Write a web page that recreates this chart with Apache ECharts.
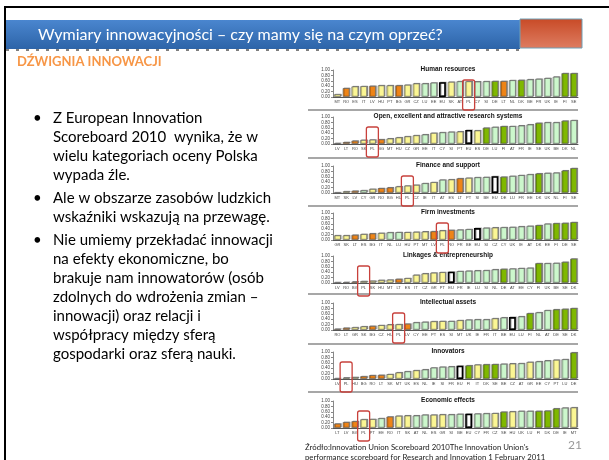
<!DOCTYPE html>
<html>
<head>
<meta charset="utf-8">
<script src="https://cdn.jsdelivr.net/npm/echarts@6/dist/echarts.min.js"></script>
<style>
body { margin: 0; background: #fff; }
#main { width: 609px; height: 460px; }
</style>
</head>
<body>
<div id="main"></div>
<script>
// country groups (IUS 2010)
var leaders = ['DK', 'FI', 'DE', 'SE'];
var followers = ['AT', 'BE', 'CY', 'EE', 'FR', 'IE', 'LU', 'NL', 'SI', 'UK'];
var moderate = ['CZ', 'GR', 'HU', 'IT', 'MT', 'PL', 'PT', 'SK', 'ES'];
var modest = ['BG', 'LV', 'LT', 'RO'];

var humanCats = ['MT','RO','ES','IT','LV','HU','PT','BG','GR','CZ','LU','EE','EU','SK','AT','PL','CY','SI','DE','LT','NL','DK','BE','FR','UK','IE','FI','SE'];
var humanVals = [0.10,0.33,0.39,0.40,0.41,0.43,0.43,0.43,0.45,0.50,0.50,0.53,0.55,0.56,0.58,0.58,0.57,0.58,0.59,0.59,0.62,0.63,0.65,0.67,0.70,0.75,0.88,0.88];

var openCats = ['LV','LT','RO','SK','PL','BG','MT','HU','CZ','GR','EE','IT','CY','SI','PT','EU','ES','DE','LU','FI','AT','FR','IE','SE','UK','BE','DK','NL'];
var openVals = [0.03,0.07,0.12,0.15,0.16,0.17,0.20,0.24,0.28,0.32,0.35,0.41,0.43,0.45,0.46,0.52,0.50,0.60,0.63,0.66,0.66,0.68,0.72,0.78,0.80,0.80,0.86,0.88];

var financeCats = ['MT','SK','LV','CY','GR','RO','BG','HU','PL','CZ','IE','IT','AT','ES','LT','PT','SI','BE','EU','DE','LU','FR','EE','DK','UK','NL','FI','SE'];
var financeVals = [0.01,0.06,0.08,0.10,0.15,0.18,0.20,0.24,0.27,0.30,0.36,0.40,0.49,0.50,0.54,0.56,0.58,0.59,0.62,0.60,0.63,0.66,0.69,0.72,0.74,0.75,0.83,0.92];

var firmCats = ['GR','SK','LT','ES','BG','IT','NL','LU','HU','PT','MT','LV','PL','RO','FR','BE','EU','SI','CZ','CY','UK','IE','AT','DK','EE','FI','DE','SE'];
var firmVals = [0.17,0.17,0.19,0.22,0.24,0.26,0.28,0.29,0.29,0.30,0.31,0.32,0.35,0.37,0.38,0.40,0.44,0.45,0.46,0.47,0.48,0.50,0.52,0.55,0.60,0.62,0.63,0.66];

var linkCats = ['LV','RO','BG','PL','SK','HU','MT','LT','ES','IT','CZ','GR','PT','EU','FR','IE','LU','SI','NL','DE','AT','EE','CY','FI','UK','BE','SE','DK'];
var linkVals = [0.02,0.03,0.05,0.07,0.08,0.11,0.12,0.15,0.18,0.30,0.35,0.38,0.40,0.42,0.44,0.45,0.46,0.47,0.50,0.52,0.53,0.55,0.56,0.73,0.73,0.74,0.78,0.90];

var intelCats = ['RO','LT','GR','SK','BG','CZ','HU','PL','LV','CY','EE','PT','ES','SI','MT','UK','IE','FR','IT','BE','EU','LU','FI','NL','AT','DE','SE','DK'];
var intelVals = [0.04,0.08,0.10,0.13,0.15,0.18,0.20,0.21,0.23,0.28,0.30,0.32,0.33,0.33,0.36,0.38,0.39,0.39,0.43,0.46,0.48,0.50,0.62,0.65,0.73,0.76,0.78,0.81];

var innovCats = ['LV','PL','HU','BG','RO','LT','SK','MT','UK','ES','NL','IE','SI','FR','EU','FI','IT','DK','SE','BE','CZ','AT','GR','EE','CY','PT','LU','DE'];
var innovVals = [0.02,0.05,0.07,0.10,0.14,0.15,0.18,0.24,0.28,0.32,0.35,0.42,0.45,0.46,0.49,0.50,0.53,0.54,0.55,0.56,0.57,0.58,0.63,0.65,0.68,0.71,0.73,0.98];

var econCats = ['LT','LV','BG','PL','PT','EE','RO','IT','SK','AT','NL','ES','GR','SI','BE','EU','CY','FR','CZ','SE','HU','UK','LU','FI','DK','DE','IE','MT'];
var econVals = [0.16,0.22,0.25,0.32,0.33,0.36,0.42,0.45,0.46,0.46,0.49,0.49,0.50,0.50,0.52,0.53,0.53,0.54,0.55,0.60,0.61,0.63,0.63,0.63,0.64,0.72,0.75,0.76];

var panelTitles = ['Human resources', 'Open, excellent and attractive research systems', 'Finance and support',
	'Firm investments', 'Linkages & entrepreneurship', 'Intellectual assets', 'Innovators', 'Economic effects'];
var panelCats = [humanCats, openCats, financeCats, firmCats, linkCats, intelCats, innovCats, econCats];
var panelVals = [humanVals, openVals, financeVals, firmVals, linkVals, intelVals, innovVals, econVals];

var bullets = [
	['Z European Innovation', 'Scoreboard 2010  wynika, że w', 'wielu kategoriach oceny Polska', 'wypada źle.'],
	['Ale w obszarze zasobów ludzkich', 'wskaźniki wskazują na przewagę.'],
	['Nie umiemy przekładać innowacji', 'na efekty ekonomiczne, bo', 'brakuje nam innowatorów (osób',
		'zdolnych do wdrożenia zmian –', 'innowacji) oraz relacji i', 'współpracy między sferą', 'gospodarki oraz sferą nauki.']
];

var gridTops = [70, 117, 166, 213, 256, 303, 352, 401];
var gridH = 27;

function barColor(c) {
	if (c == 'EU') return '#ffffff';
	if (leaders.indexOf(c) >= 0) return '#7fb800';
	if (followers.indexOf(c) >= 0) return '#ccf7cc';
	if (moderate.indexOf(c) >= 0) return '#fbf694';
	return '#ee8417';
}

var grids = [], xAxes = [], yAxes = [], series = [], titles = [];
for (var i = 0; i < 8; i++) {
	grids.push({ left: 333, right: 31, top: gridTops[i], height: gridH });
	titles.push({
		text: panelTitles[i], left: 448, top: gridTops[i] - 4, textAlign: 'center', padding: 0,
		textStyle: { fontSize: 6.5, fontWeight: 'bold', fontFamily: 'Liberation Sans', color: '#111' }
	});
	xAxes.push({
		type: 'category', gridIndex: i, data: panelCats[i],
		axisLine: { lineStyle: { color: '#555', width: 1 } },
		axisTick: { show: false },
		axisLabel: { interval: 0, fontSize: 4, color: '#444', margin: 3, fontFamily: 'Liberation Sans' }
	});
	yAxes.push({
		type: 'value', gridIndex: i, min: 0, max: 1, interval: 0.2,
		axisLine: { show: true, lineStyle: { color: '#888' } },
		axisTick: { show: true, length: 2, lineStyle: { color: '#888' } },
		splitLine: { show: false },
		axisLabel: { fontSize: 4.5, color: '#444', margin: 3, fontFamily: 'Liberation Sans',
			formatter: function(v) { return v.toFixed(2); } }
	});
	var cats = panelCats[i];
	series.push({
		type: 'bar', xAxisIndex: i, yAxisIndex: i, barCategoryGap: '22%',
		data: panelVals[i].map(function(v, k) {
			var eu = cats[k] == 'EU';
			return {
				value: v,
				itemStyle: {
					color: barColor(cats[k]),
					borderColor: eu ? '#000' : '#666',
					borderWidth: eu ? 1.6 : 0.7,
					shadowColor: 'rgba(0,0,0,0.35)', shadowOffsetX: 1, shadowOffsetY: -0.5, shadowBlur: 0.5
				}
			};
		})
	});
}

var chart = echarts.init(document.getElementById('main'));
chart.setOption({
	animation: false,
	title: titles,
	grid: grids,
	xAxis: xAxes,
	yAxis: yAxes,
	series: series
});

var g = [];
// slide frame
g.push({ type: 'line', shape: { x1: 4, y1: 7, x2: 609, y2: 7 }, style: { stroke: '#000', lineWidth: 2 } });
g.push({ type: 'line', shape: { x1: 5, y1: 7, x2: 5, y2: 460 }, style: { stroke: '#000', lineWidth: 2 } });
// title bar
g.push({ type: 'rect', shape: { x: 6, y: 20, width: 514, height: 29 },
	style: { fill: new echarts.graphic.LinearGradient(0, 0, 0, 1, [{ offset: 0, color: '#4a86cf' }, { offset: 1, color: '#2d64a8' }]) } });
g.push({ type: 'rect', shape: { x: 520, y: 19, width: 62, height: 29 },
	style: { fill: new echarts.graphic.LinearGradient(0, 0, 0, 1, [{ offset: 0, color: '#c84a26' }, { offset: 1, color: '#de7d62' }]),
		stroke: '#6f9fb5', lineWidth: 1 } });
g.push({ type: 'text', x: 38, y: 35, style: { text: 'Wymiary innowacyjności – czy mamy się na czym oprzeć?',
	fill: '#fff', font: '16px Lato', verticalAlign: 'middle' } });
g.push({ type: 'line', shape: { x1: 6, y1: 50, x2: 520, y2: 50 }, style: { stroke: '#000', lineWidth: 1, lineDash: [3, 7] } });
g.push({ type: 'text', x: 17, y: 62, style: { text: 'DŹWIGNIA INNOWACJI', fill: '#f79646',
	font: 'bold 13px Lato', verticalAlign: 'middle' } });

// bullets
var y = 118;
bullets.forEach(function(lines) {
	g.push({ type: 'text', x: 33, y: y, style: { text: '•', fill: '#000', font: '15px Lato', verticalAlign: 'middle' } });
	lines.forEach(function(t) {
		g.push({ type: 'text', x: 53, y: y, style: { text: t, fill: '#000', font: '15px Lato', verticalAlign: 'middle' } });
		y += 19;
	});
	y += 4;
});

// separators between panels
[110, 158, 206, 294, 344, 392].forEach(function(sy) {
	g.push({ type: 'line', shape: { x1: 308, y1: sy, x2: 578, y2: sy }, style: { stroke: '#8a8a8a', lineWidth: 1.5 } });
});

// Poland markers
for (var i = 0; i < 8; i++) {
	var p = chart.convertToPixel({ gridIndex: i }, [panelCats[i].indexOf('PL'), 0]);
	g.push({ type: 'rect', shape: { x: p[0] - 6, y: p[1] - 17, width: 12, height: 30, r: 2 },
		style: { fill: 'none', stroke: '#c8413c', lineWidth: 1.3 }, z: 10 });
}

// source & page number
g.push({ type: 'text', x: 305, y: 447, style: { text: 'Źródło:Innovation Union Scoreboard 2010The Innovation Union\'s',
	fill: '#222', font: '7.8px Lato', verticalAlign: 'middle' } });
g.push({ type: 'text', x: 305, y: 457, style: { text: 'performance scoreboard for Research and Innovation 1 February 2011',
	fill: '#222', font: '7.8px Lato', verticalAlign: 'middle' } });
g.push({ type: 'text', x: 568, y: 445, style: { text: '21', fill: '#999', font: '12px Lato', verticalAlign: 'middle' } });

chart.setOption({ graphic: g });
</script>
</body>
</html>
